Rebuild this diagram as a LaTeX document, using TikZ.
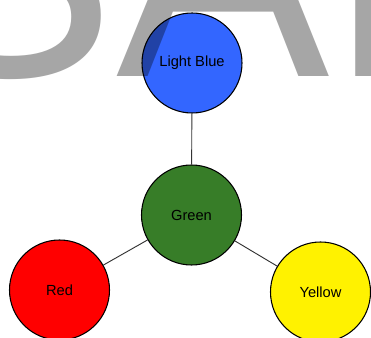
\documentclass[tikz,border=0pt]{standalone}
\usepackage{fontspec}
\setmainfont{Liberation Sans}
\definecolor{lblue}{RGB}{51,102,255}
\definecolor{dgreen}{RGB}{55,125,40}
\definecolor{wmgray}{RGB}{166,166,166}
\begin{document}
\begin{tikzpicture}[x=0.75pt,y=-0.75pt,
  ball/.style={circle,draw=black,line width=0.8pt,minimum size=75pt,inner sep=0pt,font=\fontsize{11}{12}\selectfont},
  link/.style={draw=black!80,line width=0.7pt},
  watermark/.style={anchor=base west,inner sep=0pt,text=wmgray,font=\fontsize{240}{240}\selectfont}]
\useasboundingbox (0,0) rectangle (371,338);
\fill[white] (0,0) rectangle (371,338);
\node (lb) [ball,fill=lblue] at (192,63) {Light Blue};
\node (gr) [ball,fill=dgreen] at (191.5,215) {Green};
\node (rd) [ball,fill=red] at (59.5,290) {Red};
\node (ye) [ball,fill=yellow] at (320.5,292) {Yellow};
\draw[link] (lb) -- (gr);
\draw[link] (gr) -- (rd);
\draw[link] (gr) -- (ye);
\begin{scope}[blend mode=multiply]
\clip (0,0) rectangle (371,338);
\node (wm) [watermark] at (-97.4,77) {SAMPLE};
\end{scope}
\end{tikzpicture}
\end{document}
